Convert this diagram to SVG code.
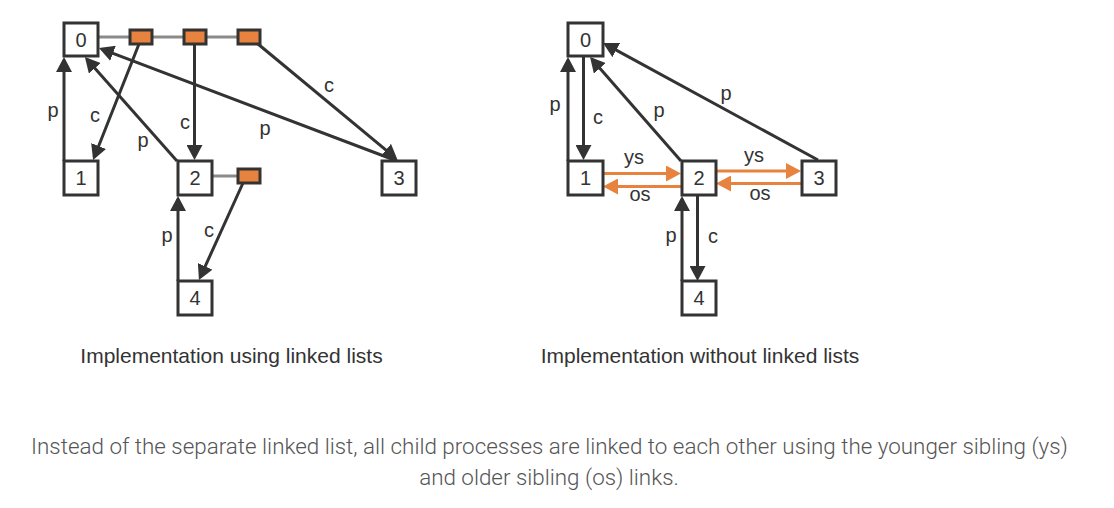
<svg xmlns="http://www.w3.org/2000/svg" width="1114" height="508" viewBox="0 0 1114 508">
<style>
.node rect{fill:#fff;stroke:#333;stroke-width:3}
.node text{font-family:"Liberation Sans",Arial,sans-serif;font-size:20px;fill:#333;text-anchor:middle}
.lk{fill:#E8833F;stroke:#333;stroke-width:3}
.gray{stroke:#8a8a8a;stroke-width:3;fill:none}
.dk{stroke:#333;stroke-width:3;fill:none;marker-end:url(#ad)}
.or{stroke:#E8833F;stroke-width:3;fill:none;marker-end:url(#ao)}
.lbl{font-family:"Liberation Sans",Arial,sans-serif;font-size:20px;fill:#333;text-anchor:middle}
.cap{font-family:"Liberation Sans",Arial,sans-serif;font-size:21px;fill:#333;text-anchor:middle}
.note{font-family:Roboto,"Noto Sans",sans-serif;font-weight:300;font-size:22.4px;fill:#555;text-anchor:middle}
</style>
<defs>
<marker id="ad" markerUnits="userSpaceOnUse" markerWidth="16" markerHeight="16" viewBox="0 0 16 16" refX="12" refY="8" orient="auto"><path d="M0,0 L15,8 L0,16 z" fill="#333"/></marker>
<marker id="ao" markerUnits="userSpaceOnUse" markerWidth="16" markerHeight="16" viewBox="0 0 16 16" refX="12" refY="8" orient="auto"><path d="M0,0 L15,8 L0,16 z" fill="#E8833F"/></marker>
</defs>

<g id="connectors">
<line class="gray" x1="98" y1="37" x2="238" y2="37"/>
<line class="gray" x1="212" y1="176" x2="238" y2="176"/>
<line class="dk" x1="64" y1="161" x2="64" y2="60"/>
<line class="dk" x1="139" y1="44" x2="94.2" y2="157.2"/>
<line class="dk" x1="177" y1="161" x2="86.9" y2="59.3"/>
<line class="dk" x1="194.5" y1="44" x2="194.5" y2="157"/>
<line class="dk" x1="397" y1="161" x2="101.8" y2="49.1"/>
<line class="dk" x1="258" y1="44" x2="395.1" y2="157.6"/>
<line class="dk" x1="178" y1="281" x2="178" y2="199"/>
<line class="dk" x1="243" y1="183" x2="200.2" y2="277.3"/>
<line class="dk" x1="568" y1="161" x2="568" y2="60"/>
<line class="dk" x1="583.5" y1="56" x2="583.5" y2="157"/>
<line class="dk" x1="681" y1="161" x2="592" y2="59.3"/>
<line class="dk" x1="818" y1="160" x2="605.7" y2="44.4"/>
<line class="or" x1="603" y1="173.5" x2="678" y2="173.5"/>
<line class="or" x1="681" y1="186.5" x2="606" y2="186.5"/>
<line class="or" x1="716" y1="171" x2="798" y2="171"/>
<line class="or" x1="801" y1="183.5" x2="719" y2="183.5"/>
<line class="dk" x1="682" y1="281" x2="682" y2="199"/>
<line class="dk" x1="697.5" y1="195" x2="697.5" y2="278"/>
</g>

<g id="list-links">
<rect class="lk" x="130" y="30" width="22" height="14"/>
<rect class="lk" x="184" y="30" width="22" height="14"/>
<rect class="lk" x="238" y="30" width="22" height="14"/>
<rect class="lk" x="238" y="169" width="22" height="14"/>
</g>

<g id="L0" class="node"><rect x="64" y="23" width="34" height="33"/><text x="81" y="46.5">0</text></g>
<g id="L1" class="node"><rect x="64" y="161" width="34" height="34"/><text x="81" y="185">1</text></g>
<g id="L2" class="node"><rect x="178" y="161" width="34" height="34"/><text x="195" y="185">2</text></g>
<g id="L3" class="node"><rect x="382" y="161" width="34" height="34"/><text x="399" y="185">3</text></g>
<g id="L4" class="node"><rect x="178" y="281" width="34" height="34"/><text x="195" y="305">4</text></g>

<g id="R0" class="node"><rect x="568" y="23" width="35" height="33"/><text x="585.5" y="46.5">0</text></g>
<g id="R1" class="node"><rect x="568" y="161" width="35" height="34"/><text x="585.5" y="185">1</text></g>
<g id="R2" class="node"><rect x="682" y="161" width="34" height="34"/><text x="699" y="185">2</text></g>
<g id="R3" class="node"><rect x="802" y="161" width="34" height="34"/><text x="819" y="185">3</text></g>
<g id="R4" class="node"><rect x="682" y="281" width="34" height="34"/><text x="699" y="305">4</text></g>

<g id="labels">
<text class="lbl" x="53" y="117">p</text>
<text class="lbl" x="95" y="122">c</text>
<text class="lbl" x="185" y="128.5">c</text>
<text class="lbl" x="143" y="146.5">p</text>
<text class="lbl" x="265" y="134.5">p</text>
<text class="lbl" x="329" y="92">c</text>
<text class="lbl" x="167" y="242">p</text>
<text class="lbl" x="209" y="236.5">c</text>
<text class="lbl" x="555" y="110.5">p</text>
<text class="lbl" x="598" y="123.5">c</text>
<text class="lbl" x="659" y="117">p</text>
<text class="lbl" x="726" y="99.5">p</text>
<text class="lbl" x="634" y="163.5">ys</text>
<text class="lbl" x="640" y="200.5">os</text>
<text class="lbl" x="754" y="162">ys</text>
<text class="lbl" x="760" y="199.5">os</text>
<text class="lbl" x="671" y="242">p</text>
<text class="lbl" x="713" y="243">c</text>
</g>

<g id="captions">
<text class="cap" x="231.5" y="362.5">Implementation using linked lists</text>
<text class="cap" x="700" y="362.5">Implementation without linked lists</text>
<text class="note" x="549.5" y="454">Instead of the separate linked list, all child processes are linked to each other using the younger sibling (ys)</text>
<text class="note" x="549" y="485">and older sibling (os) links.</text>
</g>
</svg>
